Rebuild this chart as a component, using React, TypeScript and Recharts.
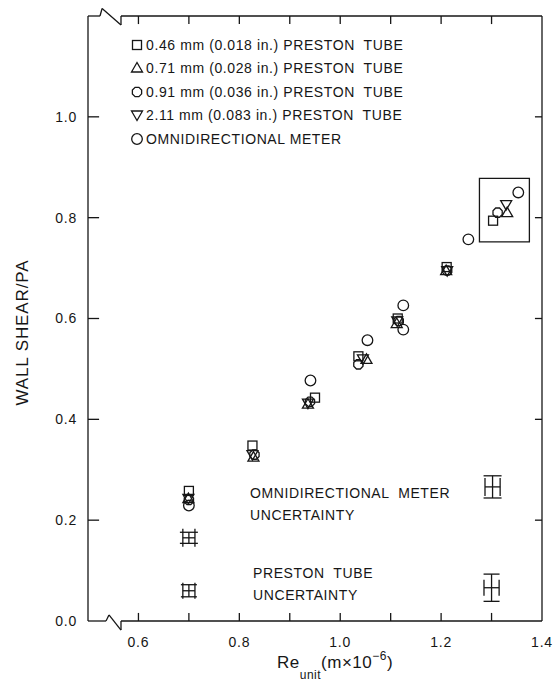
import React from 'react';
import {
  ScatterChart,
  Scatter,
  XAxis,
  YAxis,
  ReferenceLine,
  ReferenceArea,
  ErrorBar,
} from 'recharts';

// Re_unit (m x 10^-6) vs wall shear (Pa)
const tube046 = [
  { x: 0.70, y: 0.258 },
  { x: 0.826, y: 0.348 },
  { x: 0.95, y: 0.443 },
  { x: 1.036, y: 0.525 },
  { x: 1.114, y: 0.6 },
  { x: 1.211, y: 0.702 },
  { x: 1.303, y: 0.794 },
];
const tube071 = [
  { x: 0.699, y: 0.243 },
  { x: 0.828, y: 0.325 },
  { x: 0.936, y: 0.43 },
  { x: 1.052, y: 0.519 },
  { x: 1.112, y: 0.59 },
  { x: 1.21, y: 0.695 },
  { x: 1.331, y: 0.81 },
];
const tube091 = [
  { x: 0.70, y: 0.24 },
  { x: 0.83, y: 0.33 },
  { x: 0.94, y: 0.435 },
  { x: 1.036, y: 0.509 },
  { x: 1.116, y: 0.595 },
  { x: 1.212, y: 0.695 },
  { x: 1.312, y: 0.81 },
];
const tube211 = [
  { x: 0.699, y: 0.243 },
  { x: 0.826, y: 0.33 },
  { x: 0.936, y: 0.432 },
  { x: 1.045, y: 0.52 },
  { x: 1.113, y: 0.595 },
  { x: 1.212, y: 0.695 },
  { x: 1.329, y: 0.826 },
];
const omni = [
  { x: 0.70, y: 0.229 },
  { x: 0.941, y: 0.477 },
  { x: 1.054, y: 0.557 },
  { x: 1.125, y: 0.626 },
  { x: 1.125, y: 0.578 },
  { x: 1.254, y: 0.757 },
  { x: 1.353, y: 0.85 },
];

// uncertainty crosses: centre, half-width (x), half-height (y)
const omniUncertainty = [
  { x: 0.70, y: 0.165, ex: 0.012, ey: 0.011 },
  { x: 1.302, y: 0.266, ex: 0.015, ey: 0.022 },
];
const prestonUncertainty = [
  { x: 0.70, y: 0.06, ex: 0.012, ey: 0.012 },
  { x: 1.30, y: 0.066, ex: 0.015, ey: 0.027 },
];

// box drawn round the highest-Re cluster
const highlightBox = { x1: 1.276, x2: 1.375, y1: 0.752, y2: 0.878 };

const xLabelTicks = [0.6, 0.8, 1.0, 1.2, 1.4];
const xMinorTicks = [0.6, 0.7, 0.8, 0.9, 1.0, 1.1, 1.2, 1.3];
const yTicks = [0, 0.2, 0.4, 0.6, 0.8, 1.0];
const yMarkTicks = [0.2, 0.4, 0.6, 0.8, 1.0];

const X_MIN = 0.5;
const X_MAX = 1.4;
const Y_MIN = 0;
const Y_MAX = 1.2;

const INK = '#161616';
const FONT = '"Liberation Sans", Arial, Helvetica, sans-serif';

const legendItems = [
  { label: '0.46 mm (0.018 in.) PRESTON  TUBE', kind: 'square' },
  { label: '0.71 mm (0.028 in.) PRESTON  TUBE', kind: 'up' },
  { label: '0.91 mm (0.036 in.) PRESTON  TUBE', kind: 'hex' },
  { label: '2.11 mm (0.083 in.) PRESTON  TUBE', kind: 'down' },
  { label: 'OMNIDIRECTIONAL METER', kind: 'circle' },
];

const Marker = ({ kind, cx, cy }: { kind: string; cx: number; cy: number }) => {
  const common = { fill: 'none', stroke: INK, strokeWidth: 1.3 };
  if (kind === 'square') return <rect x={cx - 4.5} y={cy - 4.5} width={9} height={9} {...common} />;
  if (kind === 'up')
    return <polygon points={`${cx},${cy - 5.5} ${cx - 5.5},${cy + 4} ${cx + 5.5},${cy + 4}`} {...common} />;
  if (kind === 'down')
    return <polygon points={`${cx},${cy + 5.5} ${cx - 5.5},${cy - 4} ${cx + 5.5},${cy - 4}`} {...common} />;
  if (kind === 'hex') {
    const pts = [];
    for (let i = 0; i < 8; i++) {
      const a = (Math.PI / 4) * i + Math.PI / 8;
      pts.push(`${cx + 5 * Math.cos(a)},${cy + 5 * Math.sin(a)}`);
    }
    return <polygon points={pts.join(' ')} {...common} />;
  }
  return <circle cx={cx} cy={cy} r={5.3} {...common} />;
};

const shapeOf = (kind: string) => (p: any) => <Marker kind={kind} cx={p.cx} cy={p.cy} />;
const NoShape = () => <g />;

// frame with the broken-axis zigzags near x = 0.53
const bottomEdge = [
  [X_MIN, Y_MIN], [0.5357, Y_MIN], [0.5416, Y_MIN + 0.012], [0.5654, Y_MIN - 0.018], [0.5654, Y_MIN], [X_MAX, Y_MIN],
];
const topEdge = [
  [X_MIN, Y_MAX], [0.5238, Y_MAX], [0.528, Y_MAX + 0.015], [0.5654, Y_MAX - 0.018], [0.5654, Y_MAX], [X_MAX, Y_MAX],
];

const segs = (pts: number[][]) =>
  pts.slice(1).map((p, i) => [
    { x: pts[i][0], y: pts[i][1] },
    { x: p[0], y: p[1] },
  ]);

const frameSegments = [
  ...segs(bottomEdge),
  ...segs(topEdge),
  [{ x: X_MIN, y: Y_MIN }, { x: X_MIN, y: Y_MAX }],
  [{ x: X_MAX, y: Y_MIN }, { x: X_MAX, y: Y_MAX }],
  ...xMinorTicks.map((t) => [{ x: t, y: Y_MIN }, { x: t, y: Y_MIN + 0.016 }]),
  ...xMinorTicks.map((t) => [{ x: t, y: Y_MAX }, { x: t, y: Y_MAX - 0.016 }]),
  ...yMarkTicks.map((t) => [{ x: X_MIN, y: t }, { x: X_MIN + 0.022, y: t }]),
  ...yMarkTicks.map((t) => [{ x: X_MAX, y: t }, { x: X_MAX - 0.014, y: t }]),
];

const YTitle = (props: any) => {
  const vb = props.viewBox || { y: 16, height: 605 };
  const cx = 22;
  const cy = vb.y + vb.height / 2 + 14;
  return (
    <text
      x={cx}
      y={cy}
      transform={`rotate(-90 ${cx} ${cy})`}
      textAnchor="middle"
      dominantBaseline="central"
      fill={INK}
      fontSize={17}
      letterSpacing={0.9}
      fontFamily={FONT}
    >
      WALL SHEAR/PA
    </text>
  );
};

const XTitle = () => (
  <text x={277} y={668} fill={INK} fontSize={17} letterSpacing={0.5} fontFamily={FONT}>
    Re
    <tspan dy={11} fontSize={12}>unit</tspan>
    <tspan dy={-11}>(m×10</tspan>
    <tspan dy={-8} fontSize={12}>−6</tspan>
    <tspan dy={8}>)</tspan>
  </text>
);

const noteStyle: React.CSSProperties = {
  position: 'absolute',
  fontFamily: FONT,
  fontSize: 14,
  lineHeight: '22px',
  letterSpacing: 0.6,
  color: INK,
  whiteSpace: 'pre',
};

const tickStyle = { fill: INK, fontSize: 14, fontFamily: FONT, letterSpacing: 0.8 };

export default function App() {
  return (
    <div style={{ position: 'relative', width: 555, height: 687, background: '#fff' }}>
      <style>{'body{margin:0}'}</style>
      <ScatterChart width={555} height={687} margin={{ top: 16, right: 13, bottom: 0, left: 0 }}>
        <XAxis
          type="number"
          dataKey="x"
          domain={[X_MIN, X_MAX]}
          ticks={xLabelTicks}
          tickFormatter={(v: number) => v.toFixed(1)}
          tickLine={false}
          axisLine={false}
          tickSize={0}
          tickMargin={16}
          tick={tickStyle}
          allowDataOverflow
          height={66}
          label={<XTitle />}
        />
        <YAxis
          type="number"
          dataKey="y"
          domain={[Y_MIN, Y_MAX]}
          ticks={yTicks}
          tickFormatter={(v: number) => v.toFixed(1)}
          tickLine={false}
          axisLine={false}
          tickSize={0}
          tickMargin={11}
          width={88}
          tick={tickStyle}
          allowDataOverflow
          label={<YTitle />}
        />
        {frameSegments.map((s, i) => (
          <ReferenceLine key={i} segment={s} stroke={INK} strokeWidth={1.3} ifOverflow="visible" />
        ))}
        <ReferenceArea
          x1={highlightBox.x1}
          x2={highlightBox.x2}
          y1={highlightBox.y1}
          y2={highlightBox.y2}
          fill="none"
          fillOpacity={0}
          stroke={INK}
          strokeWidth={1.3}
        />
        <Scatter data={tube046} shape={shapeOf('square')} isAnimationActive={false} />
        <Scatter data={tube071} shape={shapeOf('up')} isAnimationActive={false} />
        <Scatter data={tube091} shape={shapeOf('hex')} isAnimationActive={false} />
        <Scatter data={tube211} shape={shapeOf('down')} isAnimationActive={false} />
        <Scatter data={omni} shape={shapeOf('circle')} isAnimationActive={false} />
        <Scatter data={omniUncertainty} shape={NoShape} isAnimationActive={false}>
          <ErrorBar dataKey="ey" direction="y" width={9} stroke={INK} strokeWidth={1.3} isAnimationActive={false} />
          <ErrorBar dataKey="ex" direction="x" width={9} stroke={INK} strokeWidth={1.3} isAnimationActive={false} />
        </Scatter>
        <Scatter data={prestonUncertainty} shape={NoShape} isAnimationActive={false}>
          <ErrorBar dataKey="ey" direction="y" width={8} stroke={INK} strokeWidth={1.3} isAnimationActive={false} />
          <ErrorBar dataKey="ex" direction="x" width={8} stroke={INK} strokeWidth={1.3} isAnimationActive={false} />
        </Scatter>
      </ScatterChart>

      <div style={{ position: 'absolute', left: 130, top: 33 }}>
        {legendItems.map((it) => (
          <div key={it.label} style={{ display: 'flex', alignItems: 'center', height: 23.5 }}>
            <svg width={14} height={14} style={{ marginRight: 2 }}>
              <Marker kind={it.kind} cx={7} cy={7} />
            </svg>
            <span style={{ fontFamily: FONT, fontSize: 14, letterSpacing: 0.6, color: INK, whiteSpace: 'pre' }}>
              {it.label}
            </span>
          </div>
        ))}
      </div>

      <div style={{ ...noteStyle, left: 250, top: 482 }}>{'OMNIDIRECTIONAL  METER\nUNCERTAINTY'}</div>
      <div style={{ ...noteStyle, left: 253, top: 562 }}>{'PRESTON  TUBE\nUNCERTAINTY'}</div>
    </div>
  );
}
